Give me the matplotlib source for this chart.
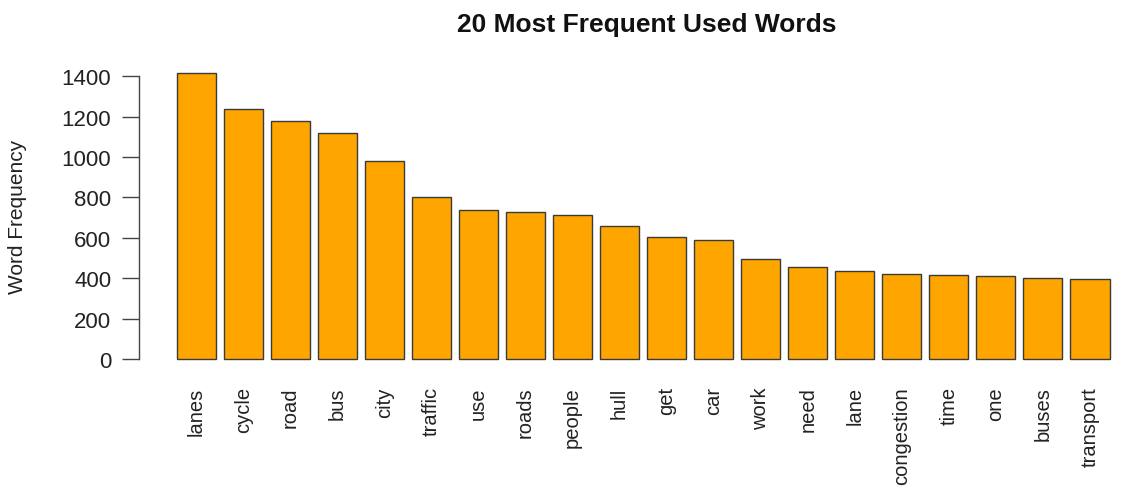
import matplotlib
matplotlib.use("Agg")
import matplotlib.pyplot as plt
import numpy as np

words = ["lanes", "cycle", "road", "bus", "city", "traffic", "use", "roads",
         "people", "hull", "get", "car", "work", "need", "lane", "congestion",
         "time", "one", "buses", "transport"]
freq = [1415, 1237, 1179, 1121, 981, 803, 737, 727, 712, 656, 603, 590,
        495, 453, 437, 419, 414, 409, 402, 397]
yticks = [0, 200, 400, 600, 800, 1000, 1200, 1400]

plt.rcParams['font.family'] = ['Liberation Sans', 'DejaVu Sans']

W, H = 1126, 489
fig = plt.figure(figsize=(W / 100, H / 100), dpi=100)

# plot region in pixels (R-style barplot)
left_px, right_px = 139, 1155
top_px, bot_px = 62.7, 371.4
ax = fig.add_axes([left_px / W, 1 - bot_px / H,
                   (right_px - left_px) / W, (bot_px - top_px) / H])

pos = 0.7 + 1.2 * np.arange(len(words))
ax.bar(pos, freq, width=1.0, color="#FFA500", edgecolor="#3a3a3a",
       linewidth=1.0)

ymax = max(freq)
ax.set_xlim(0.2 - 0.04 * 24.0, 24.2 + 0.04 * 24.0)
ax.set_ylim(-0.04 * ymax, ymax * 1.04)

for s in ["top", "right", "bottom"]:
    ax.spines[s].set_visible(False)
ax.spines["left"].set_bounds(0, 1400)
ax.spines["left"].set_color("#444444")
ax.spines["left"].set_linewidth(1.0)

ax.set_yticks(yticks)
ax.set_yticklabels([str(v) for v in yticks], fontsize=16)
ax.tick_params(axis="y", length=12, width=1.0, color="#444444", pad=8,
               labelcolor="#222222")

ax.set_xticks(pos)
ax.set_xticklabels(words, rotation=90, fontsize=14.5, color="#222222",
                   va="top", ha="center")
ax.tick_params(axis="x", length=0, pad=11.5)

ax.set_ylabel("Word Frequency", fontsize=15, color="#222222")
ax.yaxis.set_label_coords(-(139 - 27) / (right_px - left_px), 0.5)

fig.text((left_px + right_px) / 2 / W, 1 - 32 / H,
         "20 Most Frequent Used Words", ha="center", va="baseline",
         fontsize=19, fontweight="bold", color="#111111")

fig.savefig("out.png", dpi=100, facecolor="white")
